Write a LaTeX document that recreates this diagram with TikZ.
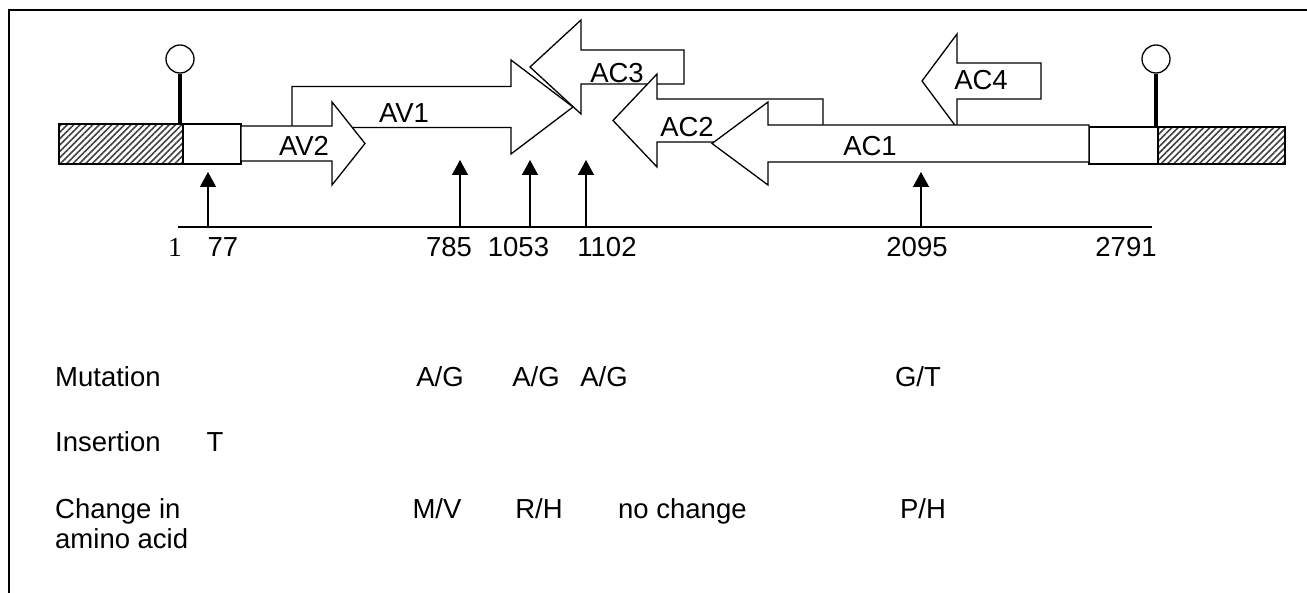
\documentclass[tikz,border=0pt]{standalone}
\usepackage{fontspec}
\setmainfont{Liberation Sans}
\newfontfamily\serifnum{Liberation Serif}
\usetikzlibrary{arrows.meta,patterns.meta}
\tikzset{
  gene/.style={draw=black, fill=white, line width=1.3pt, line join=miter},
  hatchbox/.style={draw=black, line width=1.3pt, pattern={Lines[angle=45,distance=4.5pt,line width=1.6pt]}, pattern color=black!75},
  plainbox/.style={draw=black, fill=white, line width=1.3pt},
  lab/.style={font=\fontsize{27.5}{30}\selectfont, inner sep=0pt},
  mut/.style={-{Triangle[width=16pt,length=15pt]}, line width=1.3pt},
  stick/.style={line width=4pt},
  lolly/.style={circle, draw=black, fill=white, line width=1.3pt, minimum size=28pt, inner sep=0pt},
}
\begin{document}
\begin{tikzpicture}[x=1pt,y=-1pt]
\useasboundingbox (0,0) rectangle (1307,593);
% frame
\draw[line width=2pt] (9,593) -- (9,10) -- (1307,10);

% flanking boxes
\fill[white] (59,124) rectangle (183,164);
\draw[hatchbox] (59,124) rectangle (183,164);
\draw[plainbox] (183,124) rectangle (241,164);
\fill[white] (1158,127) rectangle (1285,164);
\draw[hatchbox] (1158,127) rectangle (1285,164);
\draw[plainbox] (1089,127) rectangle (1158,164);

% lollipops
\node[lolly] (lolL) at (180,59) {};
\draw[stick] (lolL.south) -- (180,124);
\node[lolly] (lolR) at (1156,59) {};
\draw[stick] (lolR.south) -- (1156,127);

% genes
\draw[gene] (581,50) -- (684,50) -- (684,84) -- (581,84) -- (581,114) -- (530,67) -- (581,20) -- cycle; % AC3
\draw[gene] (292,86.5) -- (511,86.5) -- (511,60) -- (573,107) -- (511,154) -- (511,127.5) -- (292,127.5) -- cycle; % AV1
\draw[gene] (241,126) -- (332,126) -- (332,102) -- (365,143.5) -- (332,185) -- (332,161) -- (241,161) -- cycle; % AV2
\draw[gene] (657,99) -- (823,99) -- (823,142) -- (657,142) -- (657,167) -- (613,120.5) -- (657,74) -- cycle; % AC2
\draw[gene] (957,63) -- (1041,63) -- (1041,99) -- (957,99) -- (957,128) -- (922,81) -- (957,34) -- cycle; % AC4
\draw[gene] (768,125) -- (1089,125) -- (1089,162) -- (768,162) -- (768,185) -- (712,143.5) -- (768,102) -- cycle; % AC1

\node[lab, anchor=base] (av2) at (304,156) {AV2};
\node[lab, anchor=base] (av1) at (404,122.5) {AV1};
\node[lab, anchor=base] (ac3) at (617,83) {AC3};
\node[lab, anchor=base] (ac2) at (687,136.5) {AC2};
\node[lab, anchor=base] (ac1) at (870,156) {AC1};
\node[lab, anchor=base] (ac4) at (981,90) {AC4};

% axis
\coordinate (axL) at (178,227);
\coordinate (axR) at (1152,227);
\draw[line width=1.3pt] (axL) -- (axR);

\foreach \nm/\xx/\yy in {a/208/172, b/460/160, c/530/160, d/586/160, e/921/172}{
  \coordinate (base\nm) at (\xx,227);
  \coordinate (tip\nm) at (\xx,\yy);
  \draw[mut] (base\nm) -- (tip\nm);
}

\node[lab, anchor=base] (n1) at (175,257) {\serifnum 1};
\node[lab, anchor=base] (n77) at (223,257) {77};
\node[lab, anchor=base] (n785) at (449,257) {785};
\node[lab, anchor=base] (n1053) at (518.5,257) {1053};
\node[lab, anchor=base] (n1102) at (607,257) {1102};
\node[lab, anchor=base] (n2095) at (917,257) {2095};
\node[lab, anchor=base] (n2791) at (1126,257) {2791};

% table
\node[lab, anchor=base west] (mutl) at (55,387) {Mutation};
\node[lab, anchor=base] (m1) at (440,387) {A/G};
\node[lab, anchor=base] (m2) at (536,387) {A/G};
\node[lab, anchor=base] (m3) at (604,387) {A/G};
\node[lab, anchor=base] (m4) at (918,387) {G/T};

\node[lab, anchor=base west] (insl) at (55,452) {Insertion};
\node[lab, anchor=base] (ins1) at (215,452) {T};

\node[lab, anchor=base west] (chl) at (55,518) {Change in};
\node[lab, anchor=base west] (chl2) at (55,548) {amino acid};
\node[lab, anchor=base] (c1) at (437,518) {M/V};
\node[lab, anchor=base] (c2) at (539,518) {R/H};
\node[lab, anchor=base west] (c3) at (618,518) {no change};
\node[lab, anchor=base] (c4) at (923,518) {P/H};
\end{tikzpicture}
\end{document}
